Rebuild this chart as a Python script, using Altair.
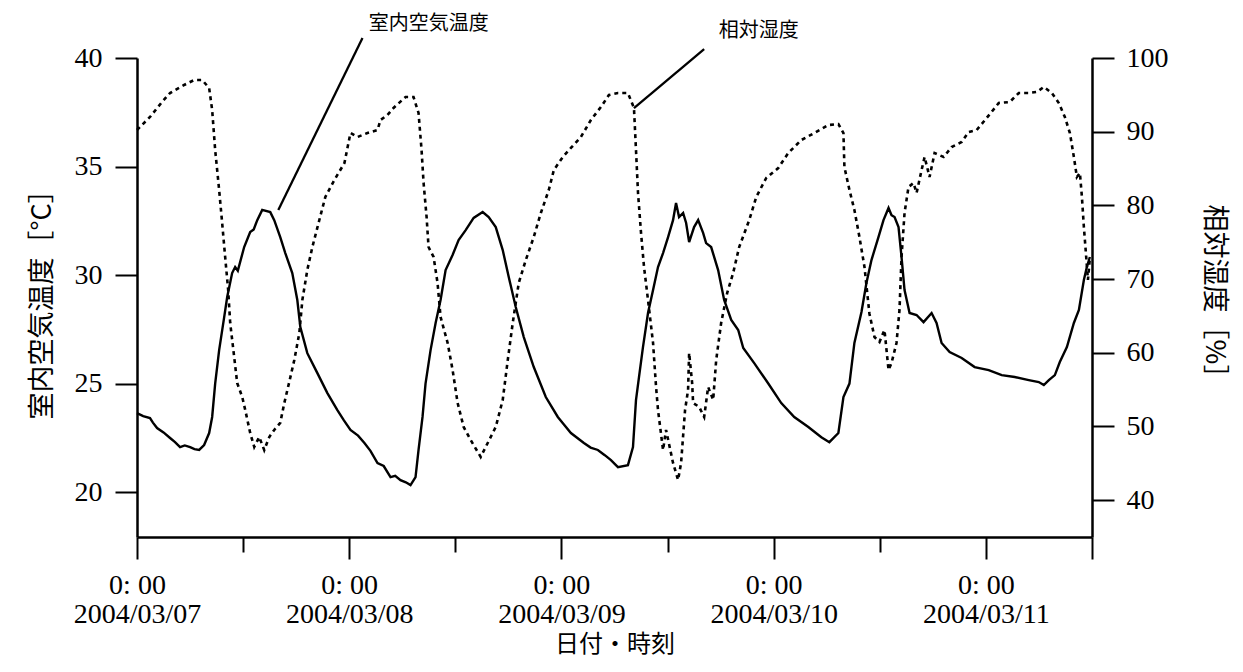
import altair as alt
import pandas as pd

# ---------------- data (hours since 2004/03/07 0:00, value) ----------------
temp_points = [
    (0.00, 23.64), (0.70, 23.50), (1.47, 23.41), (1.80, 23.20), (2.27, 22.95), (3.00, 22.75),
    (3.74, 22.49), (4.30, 22.30), (4.87, 22.07), (5.40, 22.15), (6.01, 22.07), (6.50, 21.98),
    (7.03, 21.94), (7.59, 22.17), (8.16, 22.72), (8.50, 23.46),
    (8.84, 25.00), (9.29, 26.54), (9.86, 28.06), (10.20, 28.99), (10.76, 30.09),
    (11.10, 30.37), (11.40, 30.20), (12.12, 31.29), (12.80, 31.98), (13.20, 32.10), (13.60, 32.53), (14.16, 33.00),
    (15.07, 32.90), (15.52, 32.53), (16.20, 31.75), (16.77, 31.01), (17.56, 30.09),
    (18.13, 28.85), (18.47, 27.60), (19.26, 26.40), (20.40, 25.48), (21.53, 24.56),
    (22.66, 23.78), (23.40, 23.30), (24.14, 22.86), (25.00, 22.60), (25.72, 22.26), (26.40, 21.90),
    (27.20, 21.34), (27.90, 21.20), (28.67, 20.69),
    (29.20, 20.75), (29.80, 20.55), (30.40, 20.45), (30.93, 20.32), (31.50, 20.69), (31.84, 21.94), (32.29, 23.46),
    (32.63, 25.00), (33.20, 26.54), (33.77, 27.79), (34.33, 28.85), (34.90, 30.23),
    (35.69, 30.92), (36.37, 31.61), (37.17, 32.07), (38.07, 32.63), (39.09, 32.90),
    (39.77, 32.67), (40.57, 32.21), (41.36, 31.15), (42.04, 29.91), (42.83, 28.53),
    (43.74, 27.14), (44.87, 25.76), (46.23, 24.38), (47.59, 23.46), (48.30, 23.10), (49.07, 22.72),
    (50.54, 22.26), (51.30, 22.05), (52.12, 21.94), (52.90, 21.70), (53.60, 21.47), (54.39, 21.15), (55.52, 21.24),
    (56.09, 22.07), (56.43, 24.24), (56.77, 25.30), (57.22, 26.68), (57.79, 28.25),
    (58.36, 29.31), (58.92, 30.37), (59.49, 31.01), (60.06, 31.75), (60.62, 32.53),
    (60.96, 33.32), (61.30, 32.67), (61.76, 32.86), (62.10, 32.40), (62.44, 31.52),
    (63.00, 32.21), (63.46, 32.53), (64.02, 31.94), (64.36, 31.47), (64.93, 31.29),
    (65.72, 30.23), (66.40, 28.85), (67.20, 27.93), (67.99, 27.47), (68.56, 26.64),
    (69.80, 25.94), (71.39, 25.00), (72.86, 24.10), (74.33, 23.46), (75.92, 23.00),
    (77.39, 22.53), (78.30, 22.30), (79.32, 22.72), (79.89, 24.38), (80.57, 25.00),
    (81.13, 26.87), (81.93, 28.30), (82.49, 29.63), (83.06, 30.69), (83.85, 31.75),
    (84.42, 32.53), (84.99, 33.09), (85.33, 32.76), (85.67, 32.67), (86.12, 32.21),
    (86.46, 30.83), (86.80, 29.31), (87.37, 28.25), (88.16, 28.16), (88.95, 27.83),
    (89.86, 28.25), (90.42, 27.79), (90.99, 26.87), (91.90, 26.45), (93.26, 26.18),
    (94.73, 25.76), (96.32, 25.62), (97.79, 25.39), (99.26, 25.30), (100.85, 25.16),
    (101.98, 25.07), (102.55, 24.93), (103.12, 25.16), (103.80, 25.39), (104.36, 25.99),
    (105.16, 26.68), (105.95, 27.79), (106.52, 28.39), (107.08, 29.77), (107.42, 30.37),
    (107.76, 30.83),
]

rh_points = [
    (0.00, 90.23), (1.47, 92.00), (2.83, 94.03), (3.74, 95.25), (5.33, 96.34),
    (6.46, 97.01), (7.37, 97.01), (8.16, 95.93), (8.50, 92.94), (8.84, 87.52),
    (9.29, 82.09), (9.63, 77.61), (9.97, 73.00), (10.31, 68.52), (10.54, 64.04),
    (10.99, 59.43), (11.33, 55.90), (11.90, 54.00), (12.24, 52.24), (12.80, 49.12),
    (13.26, 47.22), (13.82, 48.57), (14.39, 46.80), (14.96, 48.57), (15.52, 49.53),
    (16.20, 50.48), (16.66, 53.19), (17.22, 56.04), (17.79, 59.02), (18.36, 62.69),
    (18.70, 67.16), (19.26, 71.23), (19.83, 74.35), (20.62, 78.02), (21.30, 81.14),
    (22.32, 83.45), (23.46, 85.75), (24.14, 89.82), (24.93, 89.28), (26.06, 89.82),
    (27.20, 90.23), (27.54, 91.59), (28.33, 92.27), (29.01, 93.22), (30.37, 94.71),
    (31.27, 94.71), (31.84, 92.54), (32.18, 87.52), (32.41, 83.04), (32.75, 78.43),
    (32.97, 74.35), (33.54, 73.00), (33.99, 69.47), (34.33, 64.86), (35.13, 61.33),
    (35.69, 57.67), (36.26, 53.19), (36.94, 49.93), (37.73, 48.17), (38.87, 45.86),
    (39.66, 47.76), (40.57, 49.93), (41.36, 53.60), (41.93, 59.02), (42.49, 64.04),
    (43.17, 69.47), (43.97, 72.59), (44.87, 75.71), (45.67, 78.97), (46.57, 82.09),
    (47.14, 84.80), (48.16, 86.57), (49.07, 87.79), (50.20, 89.28), (51.33, 91.59),
    (52.46, 93.35), (53.37, 94.98), (54.39, 95.25), (55.52, 95.25), (56.20, 93.22),
    (56.43, 87.52), (56.66, 81.68), (57.00, 76.26), (57.34, 71.64), (57.79, 67.16),
    (58.36, 61.33), (58.70, 55.36), (58.92, 52.24), (59.49, 46.80), (59.83, 49.53),
    (60.62, 45.05), (61.19, 42.74), (61.53, 45.05), (61.98, 52.24), (62.32, 54.95),
    (62.44, 59.97), (62.78, 55.90), (62.89, 53.19), (63.57, 52.65), (64.14, 51.29),
    (64.59, 55.36), (65.16, 53.60), (65.50, 59.02), (66.06, 64.04), (66.74, 68.11),
    (67.42, 70.83), (68.10, 74.35), (69.24, 78.02), (70.03, 81.14), (71.16, 83.72),
    (72.52, 85.07), (73.65, 87.11), (75.13, 88.87), (76.60, 89.82), (78.19, 90.91),
    (79.32, 91.04), (79.89, 89.82), (80.00, 85.21), (80.57, 82.09), (81.13, 79.38),
    (81.70, 75.71), (82.27, 71.64), (82.83, 65.30), (83.40, 62.14), (83.97, 61.47),
    (84.53, 63.10), (84.99, 57.67), (85.33, 58.62), (85.89, 61.33), (86.23, 65.81),
    (86.46, 73.00), (86.80, 78.97), (87.25, 82.50), (87.82, 83.04), (88.16, 81.68),
    (88.73, 84.80), (89.07, 86.57), (89.63, 83.85), (90.20, 87.11), (91.22, 86.57),
    (92.12, 87.92), (93.26, 88.60), (94.05, 89.96), (94.96, 90.23), (96.09, 91.86),
    (97.45, 93.89), (98.70, 94.03), (99.72, 95.25), (100.85, 95.25), (101.76, 95.39),
    (102.55, 96.07), (103.46, 95.25), (104.25, 93.89), (104.93, 92.00), (105.50, 89.82),
    (105.95, 86.57), (106.29, 83.85), (106.63, 84.40), (106.86, 81.14), (107.08, 77.07),
    (107.31, 73.54), (107.54, 69.88), (107.76, 72.86),
]

# annotations: label, text position (h, value), leader line from (h, value) to (h2, value2)
temp_label = ["室内空気温度"]
temp_label_pos = [(33.0, 41.55)]
temp_leader = [(25.5, 40.92, 15.98, 33.0)]
rh_label = ["相対湿度"]
rh_label_pos = [(70.3, 103.6)]
rh_leader = [(64.14, 101.2, 56.2, 93.2)]

temp_ticks = [20, 25, 30, 35, 40]
rh_ticks = [40, 50, 60, 70, 80, 90, 100]
temp_domain = [17.93, 40]
rh_domain = [35, 100]

# ---------------- build ----------------
BASE_MS = int(pd.Timestamp("2004-03-07", tz="UTC").value // 10**6)
HOUR_MS = 3600000


def ms(h):
    return BASE_MS + h * HOUR_MS


temp_df = pd.DataFrame({"t": [ms(h) for h, _ in temp_points], "v": [v for _, v in temp_points]})
rh_df = pd.DataFrame({"t": [ms(h) for h, _ in rh_points], "v": [v for _, v in rh_points]})

temp_lbl_df = pd.DataFrame({"t": [ms(p[0]) for p in temp_label_pos], "v": [p[1] for p in temp_label_pos], "label": temp_label})
rh_lbl_df = pd.DataFrame({"t": [ms(p[0]) for p in rh_label_pos], "v": [p[1] for p in rh_label_pos], "label": rh_label})
temp_ld_df = pd.DataFrame({"t": [ms(p[0]) for p in temp_leader], "v": [p[1] for p in temp_leader],
                           "t2": [ms(p[2]) for p in temp_leader], "v2": [p[3] for p in temp_leader]})
rh_ld_df = pd.DataFrame({"t": [ms(p[0]) for p in rh_leader], "v": [p[1] for p in rh_leader],
                         "t2": [ms(p[2]) for p in rh_leader], "v2": [p[3] for p in rh_leader]})

tick_vals = [ms(12 * k) for k in range(10)]

SERIF = "Liberation Serif"
SANS = "Noto Sans CJK JP"

x_axis = alt.Axis(
    values=tick_vals,
    labelExpr="utchours(datum.value)==0 ? [utcFormat(datum.value,'%-H: %M'), utcFormat(datum.value,'%Y/%m/%d')] : ''",
    tickSize={"condition": {"test": "utchours(datum.value)==0 || utcdate(datum.value)==11", "value": 22}, "value": 15},
    labelFlush=False, labelOverlap=False, labelFont=SERIF, labelFontSize=28,
    labelLineHeight=29, labelPadding=12, labelBaseline="top",
    title="日付・時刻", titleFont=SANS, titleFontSize=24, titlePadding=4,
    grid=False,
)
x_scale = alt.Scale(type="utc", domain=[ms(0), ms(108)])


def X():
    return alt.X("t:T", scale=x_scale, axis=x_axis)


left_axis = alt.Axis(
    values=temp_ticks, orient="left", tickSize=22, labelPadding=13,
    labelFont=SERIF, labelFontSize=28, grid=False,
    title="室内空気温度［°C］", titleFont=SANS, titleFontSize=27, titlePadding=18,
)
right_axis = alt.Axis(
    values=rh_ticks, orient="right", tickSize=22, labelPadding=12,
    labelFont=SERIF, labelFontSize=28, grid=False,
    title="相対湿度［%］", titleFont=SANS, titleFontSize=27, titlePadding=31,
)
temp_scale = alt.Scale(domain=temp_domain, nice=False, zero=False)
rh_scale = alt.Scale(domain=rh_domain, nice=False, zero=False)


def YT():
    return alt.Y("v:Q", scale=temp_scale, axis=left_axis)


def YR():
    return alt.Y("v:Q", scale=rh_scale, axis=right_axis)


temp_line = alt.Chart(temp_df).mark_line(color="black", strokeWidth=2.4).encode(x=X(), y=YT())
temp_rule = alt.Chart(temp_ld_df).mark_rule(color="black", strokeWidth=2.3).encode(
    x=X(), x2="t2", y=YT(), y2="v2")
temp_text = alt.Chart(temp_lbl_df).mark_text(font=SANS, fontSize=20, color="black").encode(
    x=X(), y=YT(), text="label:N")
group_t = alt.layer(temp_line, temp_rule, temp_text)

rh_line = alt.Chart(rh_df).mark_line(color="black", strokeWidth=2.6, strokeDash=[4, 4]).encode(x=X(), y=YR())
rh_rule = alt.Chart(rh_ld_df).mark_rule(color="black", strokeWidth=2.3).encode(
    x=X(), x2="t2", y=YR(), y2="v2")
rh_text = alt.Chart(rh_lbl_df).mark_text(font=SANS, fontSize=20, color="black").encode(
    x=X(), y=YR(), text="label:N")
group_r = alt.layer(rh_line, rh_rule, rh_text)

chart = (
    alt.layer(group_t, group_r)
    .resolve_scale(y="independent")
    .properties(
        width=955, height=479,
        autosize=alt.AutoSizeParams(type="none"),
        padding={"left": 129, "top": 50, "right": 143, "bottom": 126},
    )
    .configure_view(stroke=None)
    .configure_axis(
        domainColor="black", domainWidth=2.5, tickColor="black", tickWidth=2,
        labelColor="black", titleColor="black", titleFontWeight="normal",
    )
)

chart.save("out.html", embed_options={"renderer": "svg", "actions": False})
